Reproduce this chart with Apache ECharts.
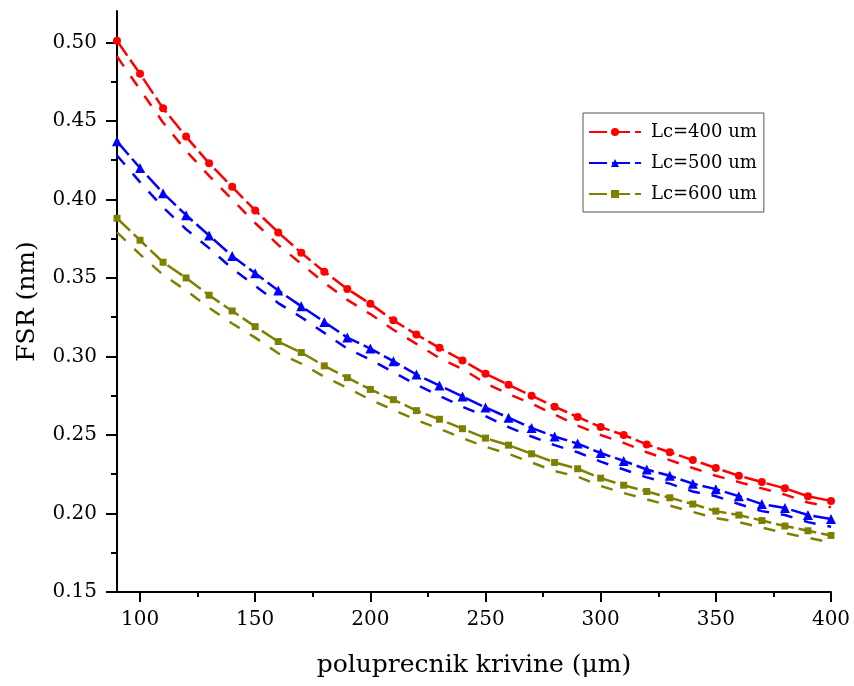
<!DOCTYPE html>
<html>
<head>
<meta charset="utf-8">
<script src="https://cdn.jsdelivr.net/npm/echarts@6/dist/echarts.min.js"></script>
<style>html,body{margin:0;padding:0;background:#fff}#c{width:854px;height:686px}</style>
</head>
<body>
<div id="c"></div>
<script>
const radius = [90,100,110,120,130,140,150,160,170,180,190,200,210,220,230,240,250,260,270,280,290,300,310,320,330,340,350,360,370,380,390,400];
const lc400 = [0.501,0.480,0.458,0.440,0.423,0.408,0.393,0.379,0.366,0.354,0.343,0.3335,0.323,0.314,0.3055,0.2975,0.289,0.282,0.275,0.268,0.2615,0.255,0.250,0.244,0.239,0.234,0.229,0.224,0.220,0.216,0.211,0.208];
const lc400b = [0.491,0.470,0.449,0.431,0.415,0.400,0.385,0.371,0.359,0.347,0.336,0.327,0.317,0.308,0.299,0.292,0.283,0.276,0.270,0.263,0.256,0.250,0.245,0.239,0.234,0.229,0.224,0.220,0.216,0.212,0.207,0.204];
const lc500 = [0.437,0.420,0.404,0.390,0.377,0.364,0.353,0.342,0.332,0.322,0.312,0.305,0.297,0.2885,0.2815,0.2745,0.2675,0.261,0.2545,0.249,0.2445,0.2385,0.2335,0.228,0.224,0.219,0.2155,0.211,0.206,0.2035,0.199,0.1965];
const lc500b = [0.428,0.411,0.395,0.381,0.369,0.356,0.345,0.334,0.325,0.315,0.305,0.298,0.290,0.282,0.275,0.268,0.262,0.255,0.249,0.2435,0.239,0.233,0.228,0.223,0.219,0.214,0.211,0.206,0.2015,0.199,0.1945,0.1915];
const lc600 = [0.388,0.374,0.360,0.350,0.339,0.329,0.319,0.3095,0.3025,0.294,0.2865,0.279,0.2725,0.2655,0.260,0.254,0.248,0.2435,0.238,0.2325,0.2285,0.2225,0.218,0.214,0.210,0.206,0.2015,0.199,0.1955,0.192,0.189,0.186];
const lc600b = [0.379,0.365,0.352,0.342,0.331,0.321,0.312,0.302,0.2955,0.287,0.280,0.2725,0.266,0.2595,0.254,0.248,0.2425,0.238,0.2325,0.227,0.2235,0.2175,0.213,0.209,0.205,0.201,0.197,0.1945,0.191,0.1875,0.1845,0.1815];
const xMajor = [100,150,200,250,300,350,400];
const xMinor = [125,175,225,275,325,375];
const yMajor = [0.15,0.20,0.25,0.30,0.35,0.40,0.45,0.50];
const yMinor = [0.175,0.225,0.275,0.325,0.375,0.425,0.475];
const names = ['Lc=400 um','Lc=500 um','Lc=600 um'];

const FONT = 'DejaVu Serif';
const pair = (ys) => radius.map((x,i)=>[x,ys[i]]);
const chart = echarts.init(document.getElementById('c'));

function mk(name, ys, color, symbol, size) {
  return {type:'line', name, data:pair(ys), xAxisIndex:0, yAxisIndex:0,
    symbol, symbolSize:size, showSymbol:true, animation:false,
    lineStyle:{color, width:2.5, type:[18,5]}, itemStyle:{color}};
}
function dash(name, ys, color) {
  return {type:'line', name, data:pair(ys), xAxisIndex:0, yAxisIndex:0,
    symbol:'none', animation:false,
    lineStyle:{color, width:2.5, type:[12,12]}, itemStyle:{color}};
}
const lineAx = {show:true, lineStyle:{color:'#000', width:2}};
chart.setOption({
  animation:false,
  grid:{left:117, right:23, top:11, bottom:94, containLabel:false},
  xAxis:[
    {type:'value', position:'bottom', min:90, max:400,
     name:'poluprecnik krivine (\u03bcm)', nameLocation:'middle', nameGap:61,
     nameTextStyle:{fontFamily:FONT, fontSize:25, color:'#000'},
     axisLine:lineAx, splitLine:{show:false},
     axisTick:{show:true, customValues:xMajor, length:10, lineStyle:{color:'#000', width:2}},
     axisLabel:{customValues:xMajor, fontFamily:FONT, fontSize:20, color:'#000', margin:18}},
    {type:'value', position:'bottom', min:90, max:400,
     axisLine:{show:false}, splitLine:{show:false},
     axisTick:{show:true, customValues:xMinor, length:5, lineStyle:{color:'#000', width:2}},
     axisLabel:{show:false}}
  ],
  yAxis:[
    {type:'value', position:'left', min:0.15, max:0.52,
     name:'FSR (nm)', nameLocation:'middle', nameGap:77, nameRotate:90,
     nameTextStyle:{fontFamily:FONT, fontSize:25, color:'#000'},
     axisLine:lineAx, splitLine:{show:false},
     axisTick:{show:true, customValues:yMajor, length:11, lineStyle:{color:'#000', width:2}},
     axisLabel:{customValues:yMajor, fontFamily:FONT, fontSize:20, color:'#000', margin:20,
       formatter:(v)=>v.toFixed(2)}},
    {type:'value', position:'left', min:0.15, max:0.52,
     axisLine:{show:false}, splitLine:{show:false},
     axisTick:{show:true, customValues:yMinor, length:6, lineStyle:{color:'#000', width:2}},
     axisLabel:{show:false}}
  ],
  legend:{
    orient:'vertical', left:583, top:113, data:names,
    padding:[9,7,8,5], itemGap:11, itemWidth:52, itemHeight:10,
    borderColor:'#555', borderWidth:1,
    textStyle:{fontFamily:FONT, fontSize:18, color:'#000', lineHeight:20, padding:[0,0,0,5]}
  },
  series:[
    dash('d400', lc400b, '#ff0000'),
    dash('d500', lc500b, '#0000ff'),
    dash('d600', lc600b, '#808000'),
    mk(names[0], lc400, '#ff0000', 'circle', 8),
    mk(names[1], lc500, '#0000ff', 'triangle', 10),
    mk(names[2], lc600, '#808000', 'rect', 7)
  ]
});
</script>
</body>
</html>
